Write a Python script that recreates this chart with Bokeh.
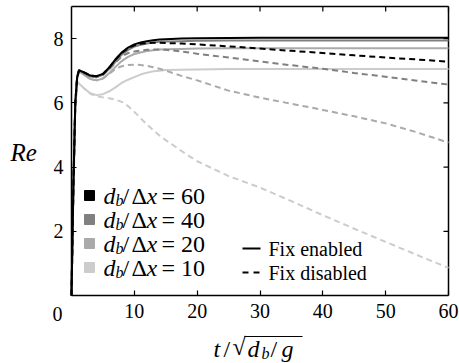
from bokeh.plotting import figure
from bokeh.models import Range1d, FixedTicker, LinearAxis
from bokeh.core.properties import value
from bokeh.embed import file_html
from bokeh.resources import INLINE

# ---------------- data ----------------
t = [0, 0.3, 0.6, 0.9, 1.2, 2, 3, 4, 5, 6, 7, 8, 9, 10, 11, 12, 13, 14, 15,
     17.5, 20, 25, 30, 35, 40, 45, 50, 55, 60]

re_60_fix = [0, 3.4, 6.0, 6.8, 7.02, 6.95, 6.85, 6.83, 6.9, 7.1, 7.35, 7.57, 7.72, 7.82, 7.88,
             7.92, 7.95, 7.97, 7.98, 8.0, 8.01, 8.02, 8.03, 8.03, 8.03, 8.03, 8.03, 8.03, 8.03]
re_60_nofix = [0, 3.4, 6.0, 6.8, 7.02, 6.95, 6.85, 6.83, 6.9, 7.1, 7.35, 7.56, 7.7, 7.79, 7.84,
               7.86, 7.87, 7.87, 7.86, 7.85, 7.82, 7.76, 7.69, 7.62, 7.55, 7.48, 7.41, 7.35, 7.28]
re_40_fix = [0, 3.4, 6.0, 6.8, 7.0, 6.92, 6.82, 6.8, 6.87, 7.05, 7.28, 7.5, 7.65, 7.75, 7.81,
             7.85, 7.88, 7.9, 7.91, 7.92, 7.93, 7.94, 7.94, 7.94, 7.94, 7.94, 7.94, 7.94, 7.94]
re_40_nofix = [0, 3.4, 6.0, 6.8, 7.0, 6.92, 6.82, 6.8, 6.87, 7.04, 7.25, 7.45, 7.55, 7.6, 7.63,
               7.65, 7.66, 7.66, 7.65, 7.6, 7.53, 7.41, 7.29, 7.17, 7.06, 6.93, 6.81, 6.69, 6.57]
re_20_fix = [0, 3.3, 5.9, 6.75, 6.98, 6.88, 6.74, 6.7, 6.76, 6.92, 7.12, 7.3, 7.43, 7.52, 7.57,
             7.61, 7.64, 7.66, 7.67, 7.68, 7.69, 7.7, 7.7, 7.7, 7.7, 7.7, 7.7, 7.7, 7.7]
re_20_nofix = [0, 3.3, 5.9, 6.75, 6.98, 6.88, 6.74, 6.7, 6.76, 6.9, 7.06, 7.14, 7.18, 7.19, 7.18,
               7.15, 7.11, 7.06, 7.0, 6.84, 6.7, 6.38, 6.16, 5.97, 5.78, 5.58, 5.36, 5.08, 4.76]
re_10_fix = [0, 3.2, 5.8, 6.66, 6.6, 6.45, 6.3, 6.24, 6.27, 6.36, 6.48, 6.62, 6.72, 6.8, 6.88,
             6.94, 6.98, 7.0, 7.02, 7.03, 7.04, 7.05, 7.05, 7.05, 7.05, 7.05, 7.05, 7.05, 7.05]
re_10_nofix = [0, 3.2, 5.8, 6.66, 6.6, 6.45, 6.28, 6.2, 6.17, 6.14, 6.1, 6.03, 5.9, 5.72, 5.52,
               5.33, 5.15, 4.98, 4.84, 4.5, 4.18, 3.72, 3.36, 2.94, 2.5, 2.08, 1.67, 1.26, 0.86]

resolutions = ["10", "20", "40", "60"]
colors = {"60": "#000000", "40": "#808080", "20": "#aaaaaa", "10": "#cccccc"}
series_fix = {"60": re_60_fix, "40": re_40_fix, "20": re_20_fix, "10": re_10_fix}
series_nofix = {"60": re_60_nofix, "40": re_40_nofix, "20": re_20_nofix, "10": re_10_nofix}
legend_order = ["60", "40", "20", "10"]

x_ticks = [10, 20, 30, 40, 50, 60]
y_ticks = [2, 4, 6, 8]
XMIN, XMAX, YMIN, YMAX = 0, 60, 0, 9

FONT = "Liberation Serif"
W, H = 459, 363
# where the data box sits on the page (pixels)
FX0, FX1, FY0, FY1 = 71, 448, 6, 295
TICK = 5  # tick length, pixels


def dx(px):
    return XMIN + (px - FX0) * (XMAX - XMIN) / (FX1 - FX0)


def dy(py):
    return YMIN + (FY1 - py) * (YMAX - YMIN) / (FY1 - FY0)


p = figure(width=W, height=H, output_backend="svg", toolbar_location=None,
           x_range=Range1d(dx(0), dx(W)), y_range=Range1d(dy(H), dy(0)),
           min_border=0, x_axis_location=None, y_axis_location=None)
p.grid.visible = False
p.outline_line_color = None
p.background_fill_color = "white"
p.border_fill_color = "white"


def make_axis(ticks, loc, bounds):
    ax = LinearAxis(ticker=FixedTicker(ticks=ticks), fixed_location=loc, bounds=bounds)
    ax.axis_line_color = "black"
    ax.axis_line_width = 1.5
    ax.major_tick_in = TICK
    ax.major_tick_out = 0
    ax.major_tick_line_width = 1.2
    ax.minor_tick_line_color = None
    ax.major_label_text_font = FONT
    ax.major_label_text_font_size = "20px"
    ax.major_label_text_color = "black"
    ax.major_label_standoff = 8
    return ax


p.add_layout(make_axis(x_ticks, YMIN, (XMIN, XMAX)), "below")
p.add_layout(make_axis(y_ticks, XMIN, (YMIN, YMAX)), "left")

# top and right edges of the box, with inward ticks at the same tick values
tick_dy = TICK * (YMAX - YMIN) / (FY1 - FY0)
tick_dx = TICK * (XMAX - XMIN) / (FX1 - FX0)
p.line([XMIN, XMAX], [YMAX, YMAX], line_color="black", line_width=1.5)
p.line([XMAX, XMAX], [YMIN, YMAX], line_color="black", line_width=1.5)
p.segment(x0=x_ticks, y0=[YMAX] * len(x_ticks), x1=x_ticks,
          y1=[YMAX - tick_dy] * len(x_ticks), line_color="black", line_width=1.2)
p.segment(x0=[XMAX] * len(y_ticks), y0=y_ticks, x1=[XMAX - tick_dx] * len(y_ticks),
          y1=y_ticks, line_color="black", line_width=1.2)

# ---------------- curves ----------------
for r in resolutions:
    p.line(t, series_nofix[r], line_color=colors[r], line_width=2, line_dash="6 4")
    p.line(t, series_fix[r], line_color=colors[r], line_width=2)


def piece(px, py, s, size, style="normal"):
    p.text(x=[dx(px)], y=[dy(py)], text=[s], text_font=value(FONT),
           text_font_size=size, text_font_style=style, text_baseline="middle",
           text_align="left", text_color="black")


# ---------------- legend ----------------
row_py = [195, 219, 243, 267]
for key, py in zip(legend_order, row_py):
    p.scatter([dx(89)], [dy(py)], marker="square", size=10,
              fill_color=colors[key], line_color=colors[key])
    piece(103, py, "d", "24px", "italic")
    piece(115, py + 5, "b", "16px", "italic")
    piece(122, py, "/", "24px")
    piece(131, py, "Δ", "24px")
    piece(146, py, "x", "24px", "italic")
    piece(161, py, "= " + key, "24px")

p.line([dx(242), dx(260)], [dy(248), dy(248)], line_color="black", line_width=2)
p.line([dx(242), dx(260)], [dy(272), dy(272)], line_color="black", line_width=2,
       line_dash="6 5")
piece(268, 248, "Fix enabled", "20px")
piece(268, 272, "Fix disabled", "20px")

# ---------------- axis titles ----------------
piece(10, 152, "Re", "25px", "italic")
piece(52, 313, "0", "20px")
piece(213, 348, "t", "24px", "italic")
piece(223, 348, "/", "24px")
piece(232, 346, "√", "24px")
piece(247, 348, "d", "24px", "italic")
piece(261, 353, "b", "16px", "italic")
piece(270, 348, "/", "24px")
piece(281, 348, "g", "24px", "italic")
p.line([dx(244), dx(302)], [dy(336), dy(336)], line_color="black", line_width=1.2)

open("out.html", "w").write(file_html(p, INLINE))
